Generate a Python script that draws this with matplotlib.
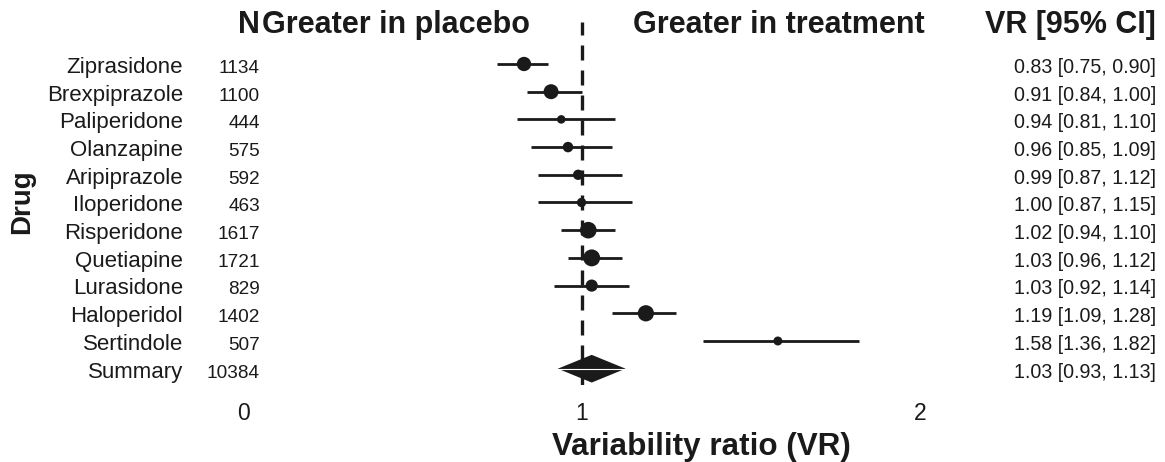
import numpy as np
import matplotlib
matplotlib.use('Agg')
import matplotlib.pyplot as plt

plt.rcParams['font.family'] = ['Liberation Sans', 'DejaVu Sans']

# data
drugs = ['Ziprasidone', 'Brexpiprazole', 'Paliperidone', 'Olanzapine', 'Aripiprazole',
         'Iloperidone', 'Risperidone', 'Quetiapine', 'Lurasidone', 'Haloperidol',
         'Sertindole']
n_pat = [1134, 1100, 444, 575, 592, 463, 1617, 1721, 829, 1402, 507]
vr = [0.83, 0.91, 0.94, 0.96, 0.99, 1.00, 1.02, 1.03, 1.03, 1.19, 1.58]
vr_lo = [0.75, 0.84, 0.81, 0.85, 0.87, 0.87, 0.94, 0.96, 0.92, 1.09, 1.36]
vr_hi = [0.90, 1.00, 1.10, 1.09, 1.12, 1.15, 1.10, 1.12, 1.14, 1.28, 1.82]

sum_label = 'Summary'
sum_n = 10384
sum_vr, sum_lo, sum_hi = 1.03, 0.93, 1.13

ink = '#1a1a1a'

fig = plt.figure(figsize=(11.65, 4.62), dpi=100)
ax = fig.add_axes([0.2086, 0.1667, 0.7863, 0.7857])

rows = np.arange(1, len(drugs) + 1)
sum_row = len(drugs) + 1

# marker area proportional to inverse variance weight
se = np.log(np.array(vr_hi) / np.array(vr_lo))
msize = (1.88 / se) ** 2

ax.axvline(1, color=ink, lw=2.4, ls=(0, (4.5, 3)), zorder=1)
ax.hlines(rows, vr_lo, vr_hi, color=ink, lw=2, zorder=2)
ax.scatter(vr, rows, s=msize, color=ink, linewidths=0, zorder=3)

# summary diamond
h = 0.5
ax.fill([sum_lo, sum_vr, sum_hi, sum_vr], [sum_row, sum_row - h, sum_row, sum_row + h],
        color=ink, lw=0, zorder=3)
ax.hlines(sum_row, sum_lo, sum_hi, color='white', lw=0.8, zorder=4)

# text columns
off = 0.32
labels = drugs + [sum_label]
ns = n_pat + [sum_n]
est = vr + [sum_vr]
lo = vr_lo + [sum_lo]
hi = vr_hi + [sum_hi]
for r, lab, n, e, l, u in zip(list(rows) + [sum_row], labels, ns, est, lo, hi):
    ax.text(-0.177, r + off, lab, ha='right', va='baseline', fontsize=16, color=ink)
    ax.text(0.05, r + off, str(n), ha='right', va='baseline', fontsize=13.7, color=ink)
    ax.text(2.697, r + off, f'{e:.2f} [{l:.2f}, {u:.2f}]', ha='right', va='baseline',
            fontsize=14.1, color=ink)

# headers
hy = -0.12
ax.text(0.05, hy, 'N', ha='right', va='baseline', fontsize=22, fontweight='bold', color=ink)
ax.text(0.848, hy, 'Greater in placebo', ha='right', va='baseline', fontsize=22,
        fontweight='bold', color=ink)
ax.text(1.152, hy, 'Greater in treatment', ha='left', va='baseline', fontsize=22,
        fontweight='bold', color=ink)
ax.text(2.697, hy, 'VR [95% CI]', ha='right', va='baseline', fontsize=22,
        fontweight='bold', color=ink)

ax.set_xlim(0, 2.706)
ax.set_ylim(12.588, -0.516)
ax.set_xticks([0, 1, 2])
ax.set_xticklabels(['0', '1', '2'], fontsize=16.5, color=ink)
ax.tick_params(axis='x', length=0, pad=12)
ax.set_yticks([])
for s in ax.spines.values():
    s.set_visible(False)

ax.set_xlabel('Variability ratio (VR)', fontsize=22.6, fontweight='bold', color=ink, labelpad=5)
fig.text(22 / 1165, 1 - 202 / 462, 'Drug', rotation=90, ha='center', va='center',
         fontsize=20, fontweight='bold', color=ink)

fig.savefig('out.png', dpi=100)
